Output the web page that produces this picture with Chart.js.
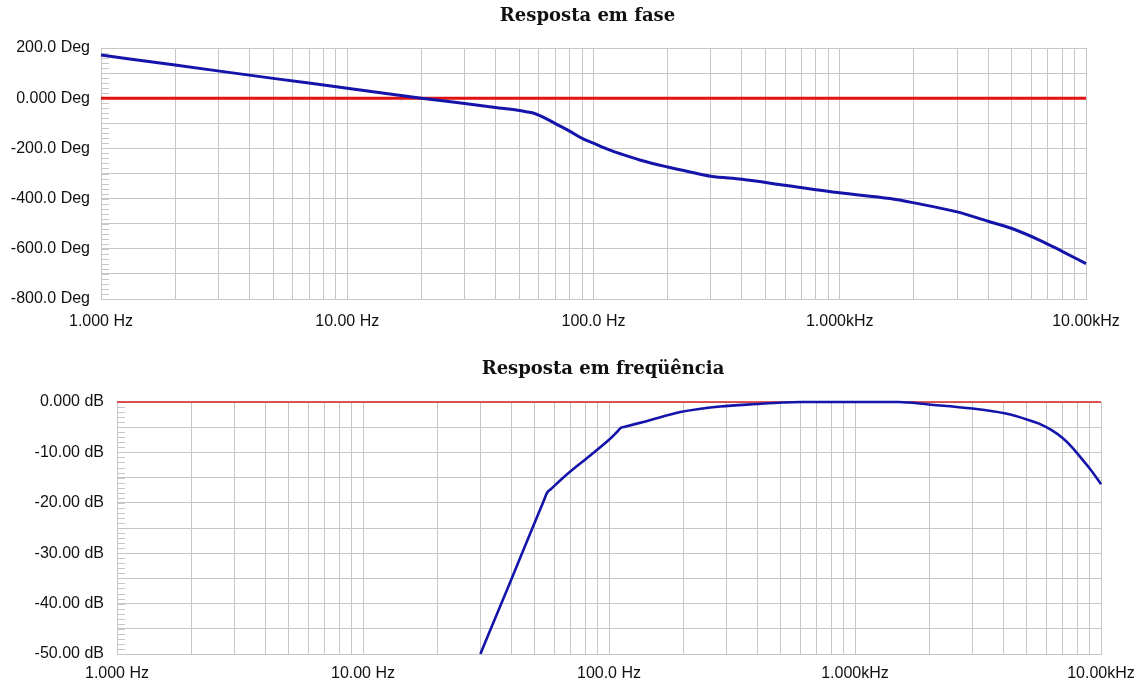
<!DOCTYPE html>
<html>
<head>
<meta charset="utf-8">
<script src="https://cdn.jsdelivr.net/npm/chart.js@4.4.1/dist/chart.umd.min.js"></script>
<style>
  html, body { margin: 0; padding: 0; background: #ffffff; }
  #wrap { position: relative; width: 1145px; height: 686px; overflow: hidden; }
  .panel { position: absolute; left: 0; width: 1145px; }
  #phasePanel { top: 0; height: 340px; }
  #magPanel { top: 340px; height: 346px; }
</style>
</head>
<body>
<div id="wrap">
  <div class="panel" id="phasePanel"><canvas id="phaseChart" width="1145" height="340"></canvas></div>
  <div class="panel" id="magPanel"><canvas id="magChart" width="1145" height="346"></canvas></div>
</div>
<script>
// ---- frequency axis (shared by both plots) ----
const decadeValues   = [1, 10, 100, 1000, 10000];
const freqTickLabels = ['1.000 Hz', '10.00 Hz', '100.0 Hz', '1.000kHz', '10.00kHz'];

// ---- phase response ----
const phaseTitle = 'Resposta em fase';
const phaseFreq = [1, 2, 5, 10, 20, 30, 40, 50, 54, 56, 58, 63, 70, 80, 90, 100, 116, 130, 154, 200, 250, 300, 400, 600, 1000, 1600, 2000, 3000, 4000, 5000, 6500, 8000, 10000];
const phaseDeg  = [172, 132, 79, 40, 0, -21, -37, -49, -55, -57, -62, -77, -101, -131, -160, -179, -206, -223, -246, -274, -295, -311, -323, -347, -377, -400, -417, -453, -490, -519, -566, -610, -659];
const phaseRefFreq = [1, 10000];
const phaseRefDeg  = [0, 0];
const phaseTickValues = [200, 0, -200, -400, -600, -800];
const phaseTickLabels = ['200.0 Deg', '0.000 Deg', '-200.0 Deg', '-400.0 Deg', '-600.0 Deg', '-800.0 Deg'];

// ---- magnitude response ----
const magTitle = 'Resposta em freqüência';
const magFreq = [30, 40, 50, 54, 56, 58, 67, 81, 100, 108, 112, 116, 142, 195, 283, 400, 510, 600, 1000, 1500, 2000, 3000, 4100, 5100, 5600, 6300, 7000, 7600, 8200, 9000, 10000];
const magDb   = [-50, -35.3, -23.8, -19.9, -18, -17.3, -14.5, -11.2, -7.5, -5.9, -5.1, -4.9, -3.8, -2.0, -0.9, -0.4, -0.1, 0, 0, 0, -0.5, -1.3, -2.3, -3.6, -4.3, -5.6, -7.2, -8.9, -10.8, -13.2, -16.3];
const magRefFreq = [1, 10000];
const magRefDb   = [0, 0];
const magTickValues = [0, -10, -20, -30, -40, -50];
const magTickLabels = ['0.000 dB', '-10.00 dB', '-20.00 dB', '-30.00 dB', '-40.00 dB', '-50.00 dB'];

// ---- styling ----
const gridGray  = '#c6c6c6';
const traceBlue = '#1414aa';
const labelFont = { family: "'Liberation Sans', Arial, sans-serif", size: 16 };
const titleFont = "bold 18px 'DejaVu Serif', serif";

const toPoints = (xs, ys) => xs.map((x, i) => ({ x, y: ys[i] }));

// short marks along the inside of the left edge of the plot
const minorTicks = {
  id: 'minorTicks',
  beforeDatasetsDraw(chart, args, opts) {
    const s = chart.scales.y, a = chart.chartArea, ctx = chart.ctx;
    ctx.save();
    ctx.strokeStyle = opts.color;
    ctx.lineWidth = 1;
    ctx.beginPath();
    for (let v = s.min; v <= s.max + 1e-9; v += opts.step) {
      const y = Math.round(s.getPixelForValue(v)) + 0.5;
      ctx.moveTo(a.left, y);
      ctx.lineTo(a.left + opts.length, y);
    }
    ctx.stroke();
    ctx.restore();
  }
};

// heading centred over the plot area
const plotTitle = {
  id: 'plotTitle',
  afterDraw(chart, args, opts) {
    const a = chart.chartArea, ctx = chart.ctx;
    ctx.save();
    ctx.font = titleFont;
    ctx.fillStyle = '#111111';
    ctx.textAlign = 'center';
    ctx.textBaseline = 'middle';
    ctx.fillText(opts.text, (a.left + a.right) / 2 + opts.shift, opts.y);
    ctx.restore();
  }
};

function frequencyAxis(height, pad) {
  return {
    type: 'logarithmic',
    min: 1,
    max: 10000,
    afterBuildTicks(scale) {
      const vals = [];
      for (let d = 1; d < 10000; d *= 10) {
        for (let m = 1; m < 10; m++) vals.push(m * d);
      }
      vals.push(10000);
      scale.ticks = vals.map(v => ({ value: v }));
    },
    afterFit(scale) {
      scale.height = height;
      scale.paddingLeft = scale.paddingRight = scale.paddingTop = scale.paddingBottom = 0;
    },
    grid: { color: gridGray, lineWidth: 1, drawTicks: false },
    border: { color: gridGray },
    ticks: {
      autoSkip: false,
      maxRotation: 0,
      minRotation: 0,
      padding: pad,
      color: '#111111',
      font: labelFont,
      callback(v) {
        const i = decadeValues.indexOf(v);
        return i >= 0 ? freqTickLabels[i] : '';
      }
    }
  };
}

function valueAxis(min, max, step, width, pad, tickValues, tickLabels) {
  return {
    type: 'linear',
    min, max,
    afterFit(scale) {
      scale.width = width;
      scale.paddingLeft = scale.paddingRight = scale.paddingTop = scale.paddingBottom = 0;
    },
    grid: { color: gridGray, lineWidth: 1, drawTicks: false },
    border: { color: gridGray },
    ticks: {
      stepSize: step,
      autoSkip: false,
      padding: pad,
      color: '#111111',
      font: labelFont,
      callback(v) {
        const i = tickValues.indexOf(v);
        return i >= 0 ? tickLabels[i] : '';
      }
    }
  };
}

Chart.defaults.animation = false;

new Chart(document.getElementById('phaseChart'), {
  type: 'line',
  data: {
    datasets: [
      { data: toPoints(phaseFreq, phaseDeg), borderColor: traceBlue, borderWidth: 3,
        pointRadius: 0, cubicInterpolationMode: 'monotone', clip: 4 },
      { data: toPoints(phaseRefFreq, phaseRefDeg), borderColor: '#e01212', borderWidth: 3,
        pointRadius: 0, clip: 4 }
    ]
  },
  options: {
    responsive: false,
    devicePixelRatio: 1,
    layout: { padding: { left: 0, right: 59, top: 48, bottom: 11 } },
    scales: {
      x: frequencyAxis(30, 13),
      y: valueAxis(-800, 200, 100, 101, 11, phaseTickValues, phaseTickLabels)
    },
    plugins: {
      legend: { display: false },
      tooltip: { enabled: false },
      minorTicks: { step: 20, length: 8, color: gridGray },
      plotTitle: { text: phaseTitle, y: 16, shift: -6 }
    }
  },
  plugins: [minorTicks, plotTitle]
});

new Chart(document.getElementById('magChart'), {
  type: 'line',
  data: {
    datasets: [
      { data: toPoints(magFreq, magDb), borderColor: traceBlue, borderWidth: 2.6,
        pointRadius: 0, cubicInterpolationMode: 'monotone', clip: 4 },
      { data: toPoints(magRefFreq, magRefDb), borderColor: '#d42020', borderWidth: 1.4,
        pointRadius: 0, clip: 4 }
    ]
  },
  options: {
    responsive: false,
    devicePixelRatio: 1,
    layout: { padding: { left: 0, right: 44, top: 62, bottom: 6 } },
    scales: {
      x: frequencyAxis(26, 10),
      y: valueAxis(-50, 0, 5, 117, 13, magTickValues, magTickLabels)
    },
    plugins: {
      legend: { display: false },
      tooltip: { enabled: false },
      minorTicks: { step: 1, length: 8, color: gridGray },
      plotTitle: { text: magTitle, y: 29, shift: -6 }
    }
  },
  plugins: [minorTicks, plotTitle]
});
</script>
</body>
</html>
